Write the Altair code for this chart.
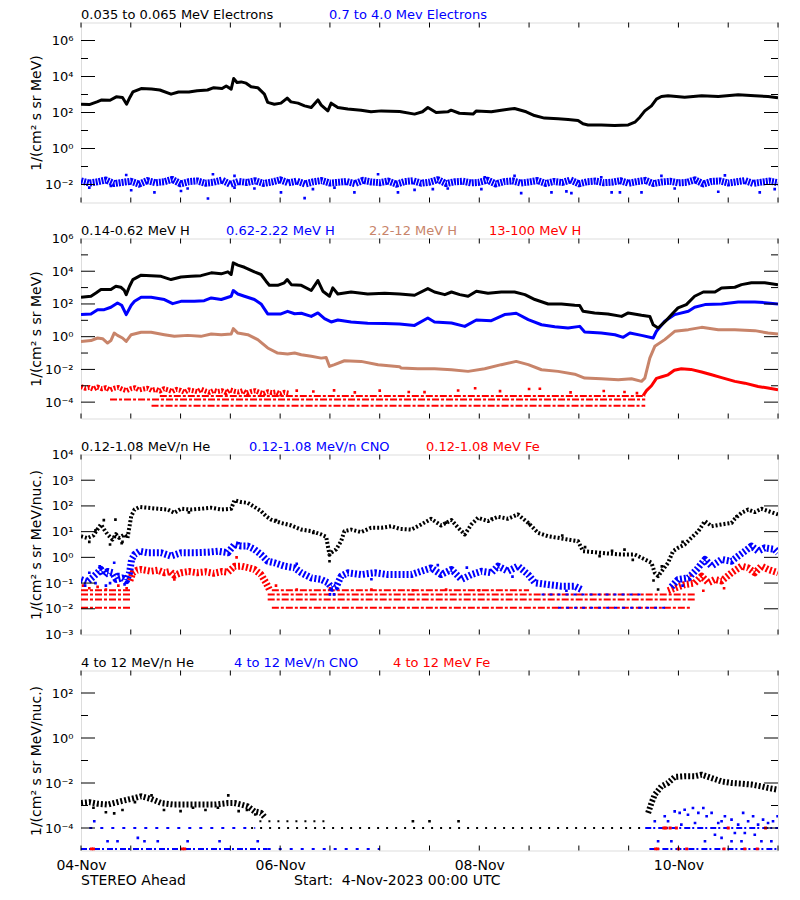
import altair as alt
import pandas as pd

W, H = 697, 180
FONT = "DejaVu Sans"
BLACK, BLUE, RED, BROWN = "#000000", "#0000FF", "#FF0000", "#C8846A"

# time axis: hours since 2023-11-04 00:00 UTC ; flux values given as log10
XTICKS = list(range(0, 169, 12))
XLABEL_VALUES = [0, 48, 96, 144]
XLABELS = ["04-Nov", "06-Nov", "08-Nov", "10-Nov"]

# ---------------- panel 1 : electrons ----------------
P1_BLACK = [(0,2.46),(2,2.44),(4,2.6),(5,2.70),(7,2.68),(8.5,2.87),(10,2.83),(11,2.46),(11.8,2.85),(12.5,3.14),
            (14.5,3.33),(17,3.30),(19,3.25),(21.7,3.02),(23.5,3.14),(26,3.14),(28,3.21),(30.5,3.25),(32,3.38),(34,3.33),
            (35,3.47),(36.2,3.30),(36.8,3.89),(37.6,3.67),(38.6,3.70),(39.8,3.63),(41,3.43),(42.6,3.38),(44.2,3.02),(45,2.56),
            (46.6,2.46),(48.2,2.52),(49.7,2.80),(50.6,2.59),(52.3,2.52),(53.9,2.37),(55.5,2.28),(57.1,2.70),(57.9,2.41),(59.5,2.09),
            (60.3,2.52),(61.9,2.28),(64.3,2.19),(67.5,2.13),(69.9,2.04),(72.4,2.09),(76.8,2.06),(80.4,1.91),(82.3,2.04),(83.6,2.28),
            (85.6,2.0),(88.4,2.04),(89.2,2.13),(91.2,1.96),(94.5,1.91),(95.3,2.09),(98.9,2.04),(101.3,2.13),(104.5,2.22),(107.3,2.04),
            (109.3,1.83),(111.7,1.69),(115,1.65),(117.4,1.61),(119.8,1.56),(121,1.37),(122.2,1.31),(125.4,1.31),(128.6,1.28),(131.9,1.31),
            (133.5,1.46),(134.7,1.74),(135.9,2.09),(137.5,2.37),(138.7,2.74),(139.9,2.89),(141.5,2.93),(145.5,2.85),(149.6,2.93),(153.6,2.89),
            (158.4,2.98),(162.4,2.93),(165.6,2.89),(168,2.82)]
P1_BLUE_T = list(range(0, 169, 2))
P1_BLUE_E = [-1.80,-1.92,-1.85,-1.75,-1.95,-1.88,-1.82,-1.98,-1.78,-1.90,
             -1.85,-1.72,-1.96,-1.84,-1.80,-1.93,-1.87,-1.76,-1.99,-1.83,
             -1.89,-1.79,-1.94,-1.86,-1.74,-1.91,-1.81,-1.97,-1.85,-1.78,
             -1.92,-1.88,-1.83,-1.95,-1.77,-1.86,-1.90,-1.81,-1.98,-1.84,
             -1.79,-1.93,-1.87,-1.73,-1.95,-1.85,-1.82,-1.91,-1.88,-1.76,
             -1.97,-1.84,-1.80,-1.92,-1.86,-1.78,-1.94,-1.83,-1.89,-1.75,
             -1.96,-1.85,-1.81,-1.90,-1.87,-1.79,-1.93,-1.84,-1.77,-1.95,
             -1.86,-1.82,-1.91,-1.88,-1.74,-1.97,-1.83,-1.80,-1.92,-1.85,
             -1.78,-1.94,-1.87,-1.81,-1.90]
P1_BLUE_OUT = [(30.6,-2.78),(17.7,-2.44),(12.1,-2.32),(24.1,-2.36),(48.2,-2.44),(53.9,-2.76),(65.9,-2.44),(76.4,-2.44),
               (25.7,-2.22),(2.0,-2.17),(7.2,-2.08),(37,-2.17),(41.8,-2.22),(55.9,-2.26),(61.1,-2.17),(80.4,-2.30),
               (84.8,-2.26),(88.4,-2.22),(96.5,-2.26),(106.1,-2.48),(113.4,-2.44),(117,-2.38),(118.2,-2.48),(127.9,-2.44),
               (129.9,-2.44),(135.1,-2.44),(143.1,-2.22),(153.6,-2.40),(163.6,-2.44),(167.2,-2.26),(10.9,-1.47),(31.8,-1.43),
               (37,-1.52),(71.6,-1.43),(104.5,-1.52),(139.9,-1.52),(155.2,-1.49),(97.3,-1.6),(125.4,-1.6)]

# ---------------- panel 2 : protons ----------------
P2_BLACK = [(0,2.41),(2.4,2.47),(3.6,2.67),(4.8,2.88),(7.2,2.88),(8.4,3.08),(9.6,3.02),(10.4,2.85),(10.9,2.57),(11.7,3.08),
            (12.5,3.49),(14.5,3.76),(16.9,3.73),(19.3,3.69),(21.7,3.49),(24.1,3.65),(26.5,3.69),(28.9,3.73),(31.4,3.90),(33.8,3.84),
            (35.4,3.96),(36.2,3.80),(36.7,4.51),(37.8,4.37),(39.4,4.24),(41.8,3.96),(43.4,3.80),(44.6,3.39),(45.4,3.14),(47.4,3.14),
            (49,3.29),(49.7,3.49),(50.7,3.18),(53.1,3.14),(55.5,2.82),(57.1,3.43),(58.3,2.78),(59.9,2.47),(60.7,2.98),(61.9,2.61),
            (65.1,2.73),(69.1,2.61),(73.2,2.65),(76.8,2.61),(80.4,2.53),(83.6,2.94),(85.2,2.73),(87.7,2.57),(89.3,2.73),(91.3,2.57),
            (93.3,2.47),(95.3,2.78),(98.1,2.65),(101.3,2.73),(104.5,2.73),(107,2.57),(109.4,2.27),(112.6,2.0),(115.8,2.0),(119,1.92),
            (120.2,1.90),(121,1.55),(123.8,1.45),(127,1.39),(130.3,1.24),(131.9,1.45),(135.1,1.31),(137.1,1.24),(137.9,0.73),(139.1,0.53),
            (140.7,0.90),(142.7,1.45),(143.9,1.76),(145.9,1.96),(147.9,2.47),(150,2.73),(152.8,2.73),(154.4,2.98),(157.6,3.02),(159.2,3.18),
            (161.6,3.29),(164.8,3.29),(168,3.18)]
P2_BLUE = [(0,1.35),(2.4,1.39),(4,1.65),(5.6,1.65),(7.2,1.80),(8.8,2.06),(9.8,1.92),(10.9,1.35),(12.1,1.92),(12.9,2.16),
           (14.5,2.41),(16.9,2.41),(20.1,2.27),(22.1,2.02),(24.1,2.16),(27.3,2.16),(29.7,2.20),(31.4,2.37),(33.8,2.27),(36.2,2.47),
           (36.7,2.82),(37.8,2.61),(39.4,2.47),(41.8,2.27),(43.4,2.0),(45,1.39),(48.2,1.39),(49.8,1.55),(51.5,1.40),(53.1,1.43),
           (55.5,1.24),(57.1,1.45),(58.7,1.10),(60.3,0.90),(61.9,1.02),(65.1,0.90),(69.1,0.82),(73.2,0.80),(76.8,0.78),(80.4,0.69),
           (83.6,1.14),(85.2,0.90),(89.3,0.84),(92.5,0.63),(95.3,1.02),(98.9,0.98),(102.1,1.35),(104.9,1.43),(107.8,1.04),(111,0.73),
           (114.2,0.61),(117.4,0.53),(120.2,0.63),(121.4,0.29),(125.4,0.22),(128.7,0.12),(130.7,-0.04),(132.3,0.22),(135.1,0.08),(137.9,-0.08),
           (138.7,0.33),(140.7,0.94),(143.1,1.35),(146.4,1.55),(147.9,1.80),(150.4,1.96),(154.4,2.0),(158.4,2.12),(162.4,2.12),(164.8,2.08),
           (168,2.0)]
P2_BROWN = [(0,-0.29),(2.4,-0.24),(4,-0.08),(5.2,-0.12),(6.4,-0.39),(7.2,-0.24),(8,0.22),(8.8,0.08),(10,-0.08),(10.9,-0.29),
            (12.1,0.12),(14.5,0.27),(16.9,0.27),(20.1,0.12),(22.5,0.02),(25.7,0.08),(28.9,0.02),(31.4,0.16),(33.8,0.12),(36.2,0.16),
            (36.7,0.49),(37.8,0.22),(40.2,0.12),(42.6,-0.18),(45,-0.69),(47.4,-1.0),(49.8,-1.06),(51.5,-1.0),(53.1,-1.10),(55.5,-1.20),
            (57.9,-1.31),(59.1,-1.27),(59.9,-1.82),(61.1,-1.71),(63.5,-1.47),(67.5,-1.51),(71.6,-1.71),(76.8,-1.84),(77.2,-1.92),(81.2,-1.96),
            (85.2,-1.96),(89.3,-2.02),(93.3,-2.12),(97.3,-1.96),(101.3,-1.71),(104.9,-1.51),(107.8,-1.71),(111,-2.02),(115,-2.12),(119,-2.29),
            (121.4,-2.53),(125.4,-2.57),(129.5,-2.63),(132.7,-2.57),(135.1,-2.73),(135.9,-2.53),(137.1,-1.31),(138.3,-0.59),(140.7,-0.18),(143.1,0.33),
            (146.4,0.43),(149.6,0.57),(153.6,0.43),(157.6,0.43),(162.4,0.37),(165.6,0.22),(168,0.16)]
P2_RED_EARLY_T = list(range(0, 51))
P2_RED_EARLY_E = [-3.05,-3.15,-3.10,-3.20,-3.08,-3.18,-3.12,-3.25,-3.15,-3.10,
                  -3.22,-3.30,-3.18,-3.12,-3.26,-3.20,-3.15,-3.28,-3.22,-3.32,
                  -3.18,-3.25,-3.35,-3.22,-3.28,-3.40,-3.25,-3.30,-3.36,-3.22,
                  -3.32,-3.40,-3.28,-3.35,-3.30,-3.42,-3.25,-3.33,-3.38,-3.30,
                  -3.45,-3.35,-3.30,-3.40,-3.48,-3.36,-3.42,-3.38,-3.50,-3.40,
                  -3.45]
P2_RED_LATE = [(135.5,-3.6),(136.3,-3.3),(137.5,-3.0),(138.7,-2.55),(140,-2.45),(141.5,-2.33),(143,-2.05),(144.7,-1.96),
               (147,-2.0),(149.6,-2.16),(152,-2.33),(154.4,-2.5),(157.6,-2.73),(160,-2.84),(163.2,-3.04),(165.6,-3.14),(168,-3.24)]
P2_RED_SPARSE = [(52,-3.3),(56,-3.35),(61,-3.28),(66,-3.4),(72,-3.3),(79,-3.38),(82.8,-3.39),(90.9,-3.29),(95,-3.15),
                 (101,-3.33),(108,-3.2),(110.6,-3.18),(118,-3.4),(126,-3.32),(131,-3.38),(134,-3.45)]
P2_RED_LEVELS = [(7,136,-3.84),(19,136,-3.62),(17,136,-4.22)]

# ---------------- panel 3 : suprathermal ions ----------------
P3_BLACK = [(0,0.82),(1.5,0.75),(3,0.85),(4,1.1),(4.8,1.28),(5.6,1.08),(6.4,0.89),(7.6,0.69),(8.4,0.9),(9.2,0.76),
            (10.5,0.89),(11.2,0.75),(11.7,1.21),(12.1,1.6),(12.9,1.86),(14.1,1.96),(16.1,1.93),(18.5,1.89),(20.9,1.86),(22.5,1.73),
            (24.1,1.89),(26.5,1.86),(28.9,1.89),(31.4,1.93),(33.8,1.86),(36.2,1.89),(37,2.22),(38.6,2.15),(40.2,2.12),(41.8,1.96),
            (43.4,1.80),(44.6,1.60),(45.8,1.47),(48.2,1.34),(50.7,1.24),(53.1,1.08),(55.5,1.02),(57.9,0.89),(59.1,0.80),(59.5,0.44),
            (59.9,0.10),(60.3,0.18),(61.5,0.31),(62.7,0.63),(63.5,1.02),(65.1,1.08),(67.5,0.98),(69.9,1.15),(72.4,1.15),(74.8,1.21),
            (76.8,1.11),(79.6,1.08),(82,1.28),(84.4,1.50),(86.8,1.24),(89.3,1.45),(90.9,1.15),(92.5,0.89),(94.1,1.28),(95.7,1.54),
            (98.1,1.41),(100.5,1.58),(102.9,1.50),(105.3,1.67),(107.8,1.34),(110.2,0.95),(112.6,0.82),(115,0.76),(117.4,0.69),(119.8,0.63),
            (121,0.24),(123.8,0.20),(127,0.15),(130.3,0.11),(133.5,0.11),(135.9,-0.08),(137.5,-0.21),(138.3,-0.6),(139.1,-0.73),(140.3,-0.47),
            (141.5,-0.21),(142.7,0.24),(143.9,0.37),(145.5,0.50),(147.1,0.76),(148.8,1.02),(150.4,1.41),(152,1.21),(154.4,1.28),(156.8,1.34),
            (157.6,1.50),(159.2,1.73),(160.8,1.86),(162.4,1.76),(164,1.89),(165.6,1.80),(168,1.67)]
P3_BLACK_OUT = [(5.5,1.45),(8.3,1.47),(2,0.6),(7,0.5),(10,0.6),(59.9,-0.15),(139.1,-1.25),(138,-0.9),(140,-0.35),
                (108,1.3),(121.5,0.4),(125,0.05),(131,0.3),(133,-0.1),(3.5,1.05),(9.8,0.55),(26,1.75),(47,1.45),
                (56,0.95),(88,1.35),(99,1.5),(116,0.85),(128,0.25),(145,0.6),(158,1.6)]
P3_BLUE_A = [(0,-0.86),(1.5,-0.95),(3,-0.75),(4.8,-0.47),(5.6,-0.7),(6.4,-0.55),(7.6,-0.6),(8.5,-0.86),(10,-0.8),(11,-0.9),
             (11.7,-0.6),(12.2,-0.08),(12.9,0.11),(14.1,0.24),(16.1,0.18),(19.3,0.18),(21.7,0.05),(24.1,0.18),(27.3,0.18),(30.6,0.20),
             (33,0.24),(35.4,0.18),(37,0.50),(38.6,0.44),(40.2,0.44),(41.8,0.31),(43.4,0.11),(45,-0.15),(46.6,-0.21),(49,-0.34),
             (51.5,-0.41),(53.1,-0.60),(55.5,-0.80),(57.9,-0.86),(59.5,-0.99),(60.5,-1.2),(61.5,-1.15),(62.7,-0.73),(64.3,-0.60),(67.5,-0.67),
             (70.8,-0.60),(74,-0.67),(76.8,-0.67),(79.6,-0.67),(82,-0.54),(84.4,-0.41),(86.8,-0.67),(89.3,-0.47),(91.7,-0.86),(94.1,-0.67),
             (96.5,-0.54),(98.9,-0.6),(100.5,-0.34),(102.9,-0.54),(105.3,-0.34),(107.8,-0.67),(109.4,-0.99),(112.6,-1.06),(115.8,-1.12),(119,-1.12),
             (120.6,-1.25)]
P3_BLUE_B = [(142.3,-1.15),(143.9,-0.86),(146.4,-0.80),(148.4,-0.47),(150.4,-0.08),(152,-0.34),(154.4,-0.08),(156.8,-0.15),
             (158.4,0.05),(160,0.24),(161.6,0.44),(163.2,0.24),(164.8,0.37),(167.2,0.31),(168,0.18)]
P3_BLUE_OUT = [(4.5,-0.35),(8,-0.21),(2,-0.6),(6,-1.1),(10.5,-1.05),(38,0.55),(86,-0.3),(60,-1.44),(61,-1.44),
               (1,-1.1),(3.5,-1.0),(7,-1.0),(9,-0.65),(52,-0.25),(70,-0.85),(93,-0.4),(104,-0.75),(117,-1.3),(145,-1.1)]
P3_BLUE_LEVELS = [(111,136,-1.44),(115,141,-1.96)]
P3_RED_A = [(11.8,-0.9),(12.5,-0.6),(13.5,-0.5),(14.5,-0.47),(16.9,-0.54),(18.5,-0.5),(20.1,-0.6),(21.5,-0.55),(22.5,-0.7),
            (24.1,-0.6),(26,-0.55),(28,-0.6),(30,-0.56),(32,-0.62),(34,-0.55),(35.4,-0.58),(37,-0.35),(38.6,-0.34),(40.2,-0.4),
            (41.8,-0.47),(43.4,-0.67),(44.6,-0.99),(45.4,-1.25)]
P3_RED_B = [(141.5,-1.3),(142.3,-1.25),(143.9,-1.15),(145.5,-1.06),(147.9,-1.0),(149.6,-0.73),(151.2,-0.99),(152.8,-0.86),
            (154.4,-0.92),(156.8,-0.60),(159.2,-0.34),(160.8,-0.41),(162.4,-0.60),(164,-0.34),(165.6,-0.47),(168,-0.60)]
P3_RED_OUT = [(0.5,-1.1),(2,-1.2),(4,-1.15),(6,-1.25),(9,-1.1),(11,-1.2),(37.5,0.0),(22.5,-0.86),(47,-1.1),(52,-1.25),
              (60,-1.2),(70,-1.25),(80,-1.28),(88,-1.25),(96,-1.28),(147,-0.7),(150,-1.3),(155,-1.2)]
P3_RED_LEVELS = [(0,12,-1.28),(46,108,-1.28),(0,12,-1.44),(45,148,-1.44),(0,12,-1.64),(45,148,-1.64),(0,12,-1.96),(46,147,-1.96)]

# ---------------- panel 4 : energetic ions ----------------
P4_BLACK_A = [(0,-2.89),(2,-2.85),(4,-2.92),(6.4,-2.96),(9.6,-2.81),(12.9,-2.67),(14.5,-2.59),(16.9,-2.71),(19.3,-2.89),
              (22.5,-2.96),(25.7,-2.96),(28.9,-2.96),(32.2,-2.96),(35.4,-2.89),(37,-2.89),(38.6,-2.96),(40.2,-3.04),(41.8,-3.26),
              (43.4,-3.33),(44.2,-3.5)]
P4_BLACK_B = [(136.7,-3.33),(137.5,-2.89),(138.3,-2.52),(139.9,-2.15),(141.5,-2.0),(143.1,-1.73),(145.5,-1.70),(147.9,-1.70),
              (149.6,-1.63),(152,-1.78),(154.4,-1.93),(156.8,-2.0),(159.2,-2.03),(161.6,-2.07),(164,-2.15),(165.6,-2.22),(168,-2.30)]
P4_BLACK_OUT = [(6,-3.3),(8,-3.35),(10,-3.2),(20,-3.2),(24,-3.25),(30,-3.2),(35.5,-2.55),(38,-3.25),(42,-3.4),
                (80,-3.70),(84,-3.70),(91,-3.70),(3,-3.1),(13,-2.85),(17,-2.55),(27,-3.1),(33,-3.1),(40,-3.2)]
P4_BLACK_LEVELS = [(43,59,-3.70),(41,137,-4.0)]
P4_BLUE_PTS = [(138.3,-3.70),(140.7,-3.48),(141.5,-3.70),(143.1,-3.26),(144.3,-3.33),(145.5,-3.19),(146.3,-3.41),(147.5,-3.11),
               (148.8,-3.33),(150,-3.11),(150.8,-3.48),(152,-3.33),(153.6,-3.78),(155.2,-3.48),(156.8,-3.63),(158.4,-3.85),
               (159.6,-3.33),(160.8,-3.70),(162,-3.48),(163.2,-3.85),(164.4,-3.63),(165.6,-3.78),(166.8,-3.70),(167.9,-3.48),
               (144.7,-3.85),(148,-3.78),(154.4,-3.70),(157.6,-4.22),(160,-4.22),(162.4,-4.3),(152.8,-4.3),(164,-4.59),
               (166.4,-4.59),(154.4,-4.44),(139.1,-4.59),(142.3,-4.59),(150.4,-4.59),(156.8,-4.59),(159.2,-4.59),
               (3.2,-3.70),(6.4,-4.59),(8.8,-4.59),(13.7,-4.44),(15.3,-4.59),(18.5,-4.59),(25.7,-4.59),(33.4,-4.59),(42.6,-4.59)]
P4_BLUE_LEVELS = [(136,168,-4.0),(0,45,-4.93),(137,168,-4.93)]
P4_BLUE_SPARSE = [(2,42,-4.0),(45,72,-4.93)]
P4_RED_PTS = [(2.5,-4.93),(3,-4.93),(24.5,-4.93),(25,-4.93),(138.5,-4.93),(139,-4.93),(140.5,-4.0),(141,-4.0),(142,-4.0),
              (143.5,-4.0),(144,-4.93),(146,-4.93),(155,-4.93),(156,-4.0),(160,-4.93),(165,-4.0),(163,-4.93)]

# ---------------- helpers ----------------
SUP = "['⁻⁵','⁻⁴','⁻³','⁻²','⁻¹','⁰','¹','²','³','⁴','⁵','⁶','⁷']"


def X(show):
    if show:
        axis = alt.Axis(values=XLABEL_VALUES,
                        labelExpr="['04-Nov','06-Nov','08-Nov','10-Nov'][round(datum.value/48)]",
                        ticks=False, domain=False, grid=False, title=None, labelFont=FONT,
                        labelFontSize=14, labelColor="black", labelPadding=8, labelFlush=False,
                        labelOverlap=False)
    else:
        axis = None
    return alt.X("t:Q", scale=alt.Scale(domain=[0, 168], nice=False, zero=False), axis=axis)


def Y(dom, vals, title):
    return alt.Y("v:Q", scale=alt.Scale(type="log", domain=dom, nice=False),
                 axis=alt.Axis(values=vals,
                               labelExpr="'10' + " + SUP + "[round(log(datum.value)/LN10)+5]",
                               ticks=False, domain=False, grid=False, title=title,
                               titleX=-38, titleY=H / 2, titleAngle=-90, titleBaseline="bottom",
                               titleAlign="center", titleFont=FONT, titleFontSize=14,
                               titleFontWeight="normal", titleColor="black",
                               labelFont=FONT, labelFontSize=13, labelColor="black",
                               labelPadding=8, labelOverlap=False, labelFlush=False))


def pairs_df(segs):
    rows = []
    for k, seg in enumerate(segs):
        for t, e in seg:
            rows.append({"t": t, "v": 10 ** e, "seg": k})
    return pd.DataFrame(rows)


def line(segs, color, width, dash=None):
    m = dict(color=color, strokeWidth=width, clip=True, strokeJoin="round")
    if dash:
        m["strokeDash"] = dash
    return lambda Xe, Ye: alt.Chart(pairs_df(segs)).mark_line(**m).encode(x=Xe, y=Ye, detail="seg:N")


def pts(p, color, size=7):
    return lambda Xe, Ye: alt.Chart(pairs_df([p])).mark_square(size=size, color=color, opacity=1,
                                                              clip=True).encode(x=Xe, y=Ye)


def levels(lv, color, dash, width=2):
    d = pd.DataFrame({"t": [a for a, b, e in lv], "t2": [b for a, b, e in lv], "v": [10 ** e for a, b, e in lv]})
    return lambda Xe, Ye: alt.Chart(d).mark_rule(color=color, strokeWidth=width, strokeDash=dash,
                                                 clip=True).encode(x=Xe, x2="t2:Q", y=Ye)


def label(txt, color, px, py, fs=13):
    return alt.Chart(pd.DataFrame({"s": [txt]})).mark_text(
        align="left", baseline="alphabetic", font=FONT, fontSize=fs, color=color
    ).encode(text="s:N", x=alt.value(px), y=alt.value(py))


def panel(dom, lab_vals, major, minor, ytitle, titles, layers, show_x=False, extra=()):
    Xe, Ye = X(show_x), Y(dom, lab_vals, ytitle)
    out = [f(Xe, Ye) for f in layers]
    for vals, ln in ((major, 14), (minor, 7)):
        if not vals:
            continue
        d = pd.DataFrame({"v": vals})
        out.append(alt.Chart(d).mark_rule(color="black", strokeWidth=1).encode(y=Ye, x=alt.value(0), x2=alt.value(ln)))
        out.append(alt.Chart(d).mark_rule(color="black", strokeWidth=1).encode(y=Ye, x=alt.value(W), x2=alt.value(W - ln)))
    xt = pd.DataFrame({"t": XTICKS})
    out.append(alt.Chart(xt).mark_rule(color="black", strokeWidth=1).encode(x=Xe, y=alt.value(H), y2=alt.value(H - 5)))
    out.append(alt.Chart(xt).mark_rule(color="black", strokeWidth=1).encode(x=Xe, y=alt.value(0), y2=alt.value(5)))
    for txt, col, px in titles:
        out.append(label(txt, col, px, -4))
    out.extend(extra)
    return alt.layer(*out).properties(width=W, height=H)


T_E = "1/(cm² s sr MeV)"
T_N = "1/(cm² s sr MeV/nuc.)"

p1 = panel([1e-3, 1e7], [1e6, 1e4, 1e2, 1, 1e-2], [1e6, 1e4, 1e2, 1, 1e-2], [1e5, 1e3, 1e1, 1e-1], T_E,
           [("0.035 to 0.065 MeV Electrons", BLACK, 0), ("0.7 to 4.0 Mev Electrons", BLUE, 248)],
           [line([list(zip(P1_BLUE_T, P1_BLUE_E))], BLUE, 7, [2, 1]),
            pts(P1_BLUE_OUT, BLUE),
            line([P1_BLACK], BLACK, 3)])

p2 = panel([1e-5, 1e6], [1e6, 1e4, 1e2, 1, 1e-2, 1e-4], [1e4, 1e2, 1, 1e-2, 1e-4], [1e5, 1e3, 1e1, 1e-1, 1e-3], T_E,
           [("0.14-0.62 MeV H", BLACK, 0), ("0.62-2.22 MeV H", BLUE, 145), ("2.2-12 MeV H", BROWN, 288),
            ("13-100 MeV H", RED, 408)],
           [levels(P2_RED_LEVELS, RED, [7, 2, 3, 2]),
            line([list(zip(P2_RED_EARLY_T, P2_RED_EARLY_E))], RED, 5, [2, 1.5]),
            pts(P2_RED_SPARSE, RED),
            line([P2_RED_LATE], RED, 3),
            line([P2_BROWN], BROWN, 3),
            line([P2_BLUE], BLUE, 3),
            line([P2_BLACK], BLACK, 3)])

p3 = panel([1e-3, 1e4], [1e4, 1e3, 1e2, 1e1, 1, 1e-1, 1e-2, 1e-3], [1e3, 1e2, 1e1, 1, 1e-1, 1e-2], [], T_N,
           [("0.12-1.08 MeV/n He", BLACK, 0), ("0.12-1.08 MeV/n CNO", BLUE, 168), ("0.12-1.08 MeV Fe", RED, 345)],
           [levels(P3_RED_LEVELS, RED, [7, 2, 3, 2]),
            levels(P3_BLUE_LEVELS, BLUE, [3, 5]),
            line([P3_RED_A, P3_RED_B], RED, 7, [2, 2]),
            pts(P3_RED_OUT, RED),
            line([P3_BLUE_A, P3_BLUE_B], BLUE, 7, [2, 2]),
            pts(P3_BLUE_OUT, BLUE),
            line([P3_BLACK], BLACK, 4, [2, 2]),
            pts(P3_BLACK_OUT, BLACK)])

p4 = panel([1e-5, 1e3], [1e2, 1, 1e-2, 1e-4], [1e2, 1, 1e-2, 1e-4], [1e1, 1e-1, 1e-3], T_N,
           [("4 to 12 MeV/n He", BLACK, 0), ("4 to 12 MeV/n CNO", BLUE, 153), ("4 to 12 MeV Fe", RED, 312)],
           [levels(P4_BLACK_LEVELS, BLACK, [2, 7]),
            levels(P4_BLUE_LEVELS, BLUE, [6, 2, 2, 3]),
            levels(P4_BLUE_SPARSE, BLUE, [3, 8]),
            pts(P4_BLUE_PTS, BLUE),
            pts(P4_RED_PTS, RED, 9),
            line([P4_BLACK_A, P4_BLACK_B], BLACK, 6, [2, 2]),
            pts(P4_BLACK_OUT, BLACK)],
           show_x=True,
           extra=[label("STEREO Ahead", BLACK, 0, H + 34, 14),
                  label("Start:\u00a0\u00a04-Nov-2023 00:00 UTC", BLACK, 213, H + 34, 14)])

chart = alt.vconcat(p1, p2, p3, p4, spacing=36, bounds="flush").properties(
    padding={"left": 20, "top": -0.5, "right": 5, "bottom": 5}
).configure_view(stroke="black", strokeWidth=1).configure(font=FONT, background="white")

chart.save("out.html", embed_options={"renderer": "svg", "actions": False})
